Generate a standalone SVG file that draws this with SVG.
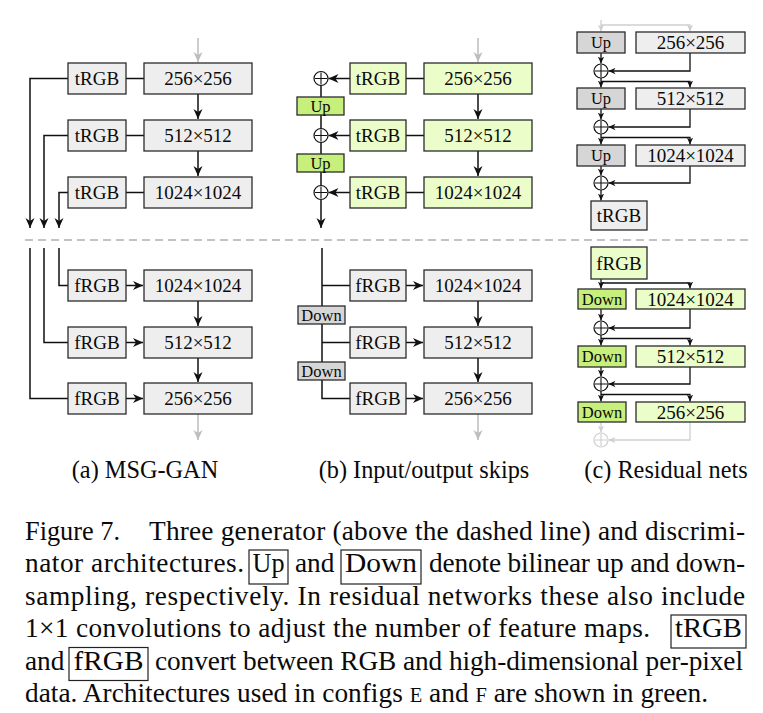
<svg xmlns="http://www.w3.org/2000/svg" width="763" height="713" viewBox="0 0 763 713">
<style>
text{font-family:"Liberation Serif","Times New Roman",serif;fill:#0a0a0a}
.lbl{font-size:19px;text-anchor:middle}
.sm{font-size:16.5px;text-anchor:middle}
.box{fill:#eeeeee;stroke:#2b2b2b;stroke-width:1.3}
.dk{fill:#d6d6d6;stroke:#2b2b2b;stroke-width:1.3}
.gl{fill:#ebfdc8;stroke:#2b2b2b;stroke-width:1.3}
.gb{fill:#c6ef7c;stroke:#2b2b2b;stroke-width:1.3}
.w{stroke:#111;stroke-width:1.5;fill:none}
.a{stroke:#111;stroke-width:1.5;fill:none;marker-end:url(#ah)}
.as{stroke:#111;stroke-width:1.3;fill:none;marker-end:url(#ahs)}
.g{stroke:#bdbdbd;stroke-width:1.5;fill:none;marker-end:url(#ahg)}
.gs{stroke:#cfcfcf;stroke-width:1.3;fill:none;marker-end:url(#ahgs)}
.ci{fill:#fff;stroke:#111;stroke-width:1.2}
.cig{fill:#fff;stroke:#cfcfcf;stroke-width:1.2}
.cap{font-size:27.3px}
.sub{font-size:24.3px;text-anchor:middle}
.cb{fill:none;stroke:#222;stroke-width:1.2}
</style>
<defs>
<marker id="ah" viewBox="0 0 10 10" refX="10" refY="5" markerWidth="10" markerHeight="10" markerUnits="userSpaceOnUse" orient="auto"><path d="M0,0.5 L10,5 L0,9.5 L3,5 z" fill="#111"/></marker>
<marker id="ahs" viewBox="0 0 10 10" refX="10" refY="5" markerWidth="7" markerHeight="7" markerUnits="userSpaceOnUse" orient="auto"><path d="M0,0.5 L10,5 L0,9.5 L3,5 z" fill="#111"/></marker>
<marker id="ahg" viewBox="0 0 10 10" refX="10" refY="5" markerWidth="10" markerHeight="10" markerUnits="userSpaceOnUse" orient="auto"><path d="M0,0.5 L10,5 L0,9.5 L3,5 z" fill="#bdbdbd"/></marker>
<marker id="ahgs" viewBox="0 0 10 10" refX="10" refY="5" markerWidth="7" markerHeight="7" markerUnits="userSpaceOnUse" orient="auto"><path d="M0,0.5 L10,5 L0,9.5 L3,5 z" fill="#cfcfcf"/></marker>
<path id="plus" d="M-6,0 H6 M0,-6 V6" stroke="#111" stroke-width="1.1"/>
</defs>

<g id="connectors">
<!-- (a) top -->
<path class="g" d="M198,38 V62"/>
<path class="a" d="M198,94 V119"/>
<path class="a" d="M198,151 V176"/>
<path class="w" d="M126,78.5 H144 M126,135.5 H144 M126,192.5 H144"/>
<path class="a" d="M68,78.5 H30 V228"/>
<path class="a" d="M68,135.5 H44 V228"/>
<path class="a" d="M68,192.5 H59 V228"/>
<!-- (a) bottom -->
<path class="w" d="M59,248 V285.5 H68 M44,248 V342.5 H68 M30,248 V398.5 H68"/>
<path class="a" d="M126,285.5 H143"/>
<path class="a" d="M126,342.5 H143"/>
<path class="a" d="M126,398.5 H143"/>
<path class="a" d="M198,301 V326"/>
<path class="a" d="M198,358 V382"/>
<path class="g" d="M198,414 V440"/>
<!-- (b) top -->
<path class="g" d="M478,38 V62"/>
<path class="a" d="M478,94 V119"/>
<path class="a" d="M478,151 V176"/>
<path class="w" d="M406,78.5 H424 M406,135.5 H424 M406,192.5 H424"/>
<path class="a" d="M350,78.5 H328.5"/>
<path class="a" d="M350,135.5 H328.5"/>
<path class="a" d="M350,192.5 H328.5"/>
<path class="w" d="M321,85.5 V97 M321,115 V128.5 M321,142.5 V154 M321,172 V185.5"/>
<path class="a" d="M321,199.5 V228"/>
<!-- (b) bottom -->
<path class="w" d="M322,248 V306 M322,285.5 H350 M322,324 V362 M322,342.5 H350 M322,380 V398.5 H350"/>
<path class="a" d="M406,285.5 H423"/>
<path class="a" d="M406,342.5 H423"/>
<path class="a" d="M406,398.5 H423"/>
<path class="a" d="M478,301 V326"/>
<path class="a" d="M478,358 V382"/>
<path class="g" d="M478,414 V440"/>
<!-- (c) top -->
<path class="gs" d="M601,20 V31.5"/>
<path class="gs" d="M601,25 H690 V31.5"/>
<path class="as" d="M601,53 V63.5"/>
<path class="as" d="M690,53 V71 H608.5"/>
<path class="as" d="M601,78 V87.5"/>
<path class="as" d="M601,81.5 H690 V87.5"/>
<path class="as" d="M601,109 V119.5"/>
<path class="as" d="M690,109 V127 H608.5"/>
<path class="as" d="M601,134 V144.5"/>
<path class="as" d="M601,137.5 H690 V144.5"/>
<path class="as" d="M601,166 V175.5"/>
<path class="as" d="M690,166 V183 H608.5"/>
<path class="as" d="M601,190 V200.5"/>
<!-- (c) bottom -->
<path class="as" d="M601,279 V288.5"/>
<path class="as" d="M601,283 H690 V288.5"/>
<path class="as" d="M601,309 V320.5"/>
<path class="as" d="M690,309 V328 H608.5"/>
<path class="as" d="M601,335 V345.5"/>
<path class="as" d="M601,338.5 H690 V345.5"/>
<path class="as" d="M601,367 V376.5"/>
<path class="as" d="M690,367 V384 H608.5"/>
<path class="as" d="M601,391 V401.5"/>
<path class="as" d="M601,394.5 H690 V401.5"/>
<path class="gs" d="M601,422 V432.5"/>
<path class="gs" d="M690,422 V440 H608.5"/>
</g>

<!-- dashed separator -->
<path d="M25,240 H752" stroke="#b0b0b0" stroke-width="1.5" stroke-dasharray="8,5" fill="none"/>

<!-- (a) MSG-GAN -->
<g id="a-tRGB-256"><rect class="box" x="68" y="63" width="58" height="31"/><text class="lbl" x="97" y="85">tRGB</text></g>
<g id="a-res-256"><rect class="box" x="144" y="63" width="108" height="31"/><text class="lbl" x="198" y="85">256×256</text></g>
<g id="a-tRGB-512"><rect class="box" x="68" y="120" width="58" height="31"/><text class="lbl" x="97" y="142">tRGB</text></g>
<g id="a-res-512"><rect class="box" x="144" y="120" width="108" height="31"/><text class="lbl" x="198" y="142">512×512</text></g>
<g id="a-tRGB-1024"><rect class="box" x="68" y="177" width="58" height="31"/><text class="lbl" x="97" y="199">tRGB</text></g>
<g id="a-res-1024"><rect class="box" x="144" y="177" width="108" height="31"/><text class="lbl" x="198" y="199">1024×1024</text></g>
<g id="a-fRGB-1024"><rect class="box" x="68" y="270" width="58" height="31"/><text class="lbl" x="97" y="292">fRGB</text></g>
<g id="a-dres-1024"><rect class="box" x="144" y="270" width="108" height="31"/><text class="lbl" x="198" y="292">1024×1024</text></g>
<g id="a-fRGB-512"><rect class="box" x="68" y="327" width="58" height="31"/><text class="lbl" x="97" y="349">fRGB</text></g>
<g id="a-dres-512"><rect class="box" x="144" y="327" width="108" height="31"/><text class="lbl" x="198" y="349">512×512</text></g>
<g id="a-fRGB-256"><rect class="box" x="68" y="383" width="58" height="31"/><text class="lbl" x="97" y="405">fRGB</text></g>
<g id="a-dres-256"><rect class="box" x="144" y="383" width="108" height="31"/><text class="lbl" x="198" y="405">256×256</text></g>

<!-- (b) Input/output skips -->
<g id="b-tRGB-256"><rect class="gl" x="350" y="63" width="56" height="31"/><text class="lbl" x="378" y="85">tRGB</text></g>
<g id="b-res-256"><rect class="gl" x="424" y="63" width="108" height="31"/><text class="lbl" x="478" y="85">256×256</text></g>
<g id="b-tRGB-512"><rect class="gl" x="350" y="120" width="56" height="31"/><text class="lbl" x="378" y="142">tRGB</text></g>
<g id="b-res-512"><rect class="gl" x="424" y="120" width="108" height="31"/><text class="lbl" x="478" y="142">512×512</text></g>
<g id="b-tRGB-1024"><rect class="gl" x="350" y="177" width="56" height="31"/><text class="lbl" x="378" y="199">tRGB</text></g>
<g id="b-res-1024"><rect class="gl" x="424" y="177" width="108" height="31"/><text class="lbl" x="478" y="199">1024×1024</text></g>
<g id="b-sum-1"><circle class="ci" cx="321" cy="78.5" r="7"/><use href="#plus" x="321" y="78.5"/></g>
<g id="b-up-1"><rect class="gb" x="297" y="97" width="47" height="18"/><text class="sm" x="320.5" y="112">Up</text></g>
<g id="b-sum-2"><circle class="ci" cx="321" cy="135.5" r="7"/><use href="#plus" x="321" y="135.5"/></g>
<g id="b-up-2"><rect class="gb" x="297" y="154" width="47" height="18"/><text class="sm" x="320.5" y="169">Up</text></g>
<g id="b-sum-3"><circle class="ci" cx="321" cy="192.5" r="7"/><use href="#plus" x="321" y="192.5"/></g>
<g id="b-fRGB-1024"><rect class="box" x="350" y="270" width="56" height="31"/><text class="lbl" x="378" y="292">fRGB</text></g>
<g id="b-dres-1024"><rect class="box" x="424" y="270" width="108" height="31"/><text class="lbl" x="478" y="292">1024×1024</text></g>
<g id="b-down-1"><rect class="dk" x="298" y="306" width="47" height="18"/><text class="sm" x="321.5" y="320.5">Down</text></g>
<g id="b-fRGB-512"><rect class="box" x="350" y="327" width="56" height="31"/><text class="lbl" x="378" y="349">fRGB</text></g>
<g id="b-dres-512"><rect class="box" x="424" y="327" width="108" height="31"/><text class="lbl" x="478" y="349">512×512</text></g>
<g id="b-down-2"><rect class="dk" x="298" y="362" width="47" height="18"/><text class="sm" x="321.5" y="376.5">Down</text></g>
<g id="b-fRGB-256"><rect class="box" x="350" y="383" width="56" height="31"/><text class="lbl" x="378" y="405">fRGB</text></g>
<g id="b-dres-256"><rect class="box" x="424" y="383" width="108" height="31"/><text class="lbl" x="478" y="405">256×256</text></g>

<!-- (c) Residual nets -->
<g id="c-up-1"><rect class="dk" x="577" y="32" width="48" height="21"/><text class="sm" x="601" y="48">Up</text></g>
<g id="c-res-256"><rect class="box" x="636" y="32" width="109" height="21"/><text class="lbl" x="690.5" y="49">256×256</text></g>
<g id="c-sum-1"><circle class="ci" cx="601" cy="71" r="7"/><use href="#plus" x="601" y="71"/></g>
<g id="c-up-2"><rect class="dk" x="577" y="88" width="48" height="21"/><text class="sm" x="601" y="104">Up</text></g>
<g id="c-res-512"><rect class="box" x="636" y="88" width="109" height="21"/><text class="lbl" x="690.5" y="105">512×512</text></g>
<g id="c-sum-2"><circle class="ci" cx="601" cy="127" r="7"/><use href="#plus" x="601" y="127"/></g>
<g id="c-up-3"><rect class="dk" x="577" y="145" width="48" height="21"/><text class="sm" x="601" y="161">Up</text></g>
<g id="c-res-1024"><rect class="box" x="636" y="145" width="109" height="21"/><text class="lbl" x="690.5" y="162">1024×1024</text></g>
<g id="c-sum-3"><circle class="ci" cx="601" cy="183" r="7"/><use href="#plus" x="601" y="183"/></g>
<g id="c-tRGB"><rect class="box" x="591" y="201" width="56" height="29"/><text class="lbl" x="619" y="222">tRGB</text></g>
<g id="c-fRGB"><rect class="gl" x="591" y="247" width="56" height="32"/><text class="lbl" x="619" y="270">fRGB</text></g>
<g id="c-down-1"><rect class="gb" x="578" y="289" width="48" height="20"/><text class="sm" x="602" y="304.5">Down</text></g>
<g id="c-dres-1024"><rect class="gl" x="636" y="289" width="109" height="20"/><text class="lbl" x="690.5" y="305.5">1024×1024</text></g>
<g id="c-sum-4"><circle class="ci" cx="601" cy="328" r="7"/><use href="#plus" x="601" y="328"/></g>
<g id="c-down-2"><rect class="gb" x="578" y="346" width="48" height="21"/><text class="sm" x="602" y="362">Down</text></g>
<g id="c-dres-512"><rect class="gl" x="636" y="346" width="109" height="21"/><text class="lbl" x="690.5" y="363">512×512</text></g>
<g id="c-sum-5"><circle class="ci" cx="601" cy="384" r="7"/><use href="#plus" x="601" y="384"/></g>
<g id="c-down-3"><rect class="gb" x="578" y="402" width="48" height="20"/><text class="sm" x="602" y="417.5">Down</text></g>
<g id="c-dres-256"><rect class="gl" x="636" y="402" width="109" height="20"/><text class="lbl" x="690.5" y="418.5">256×256</text></g>
<g id="c-sum-6"><circle class="cig" cx="601" cy="440" r="7"/><path d="M595,440 H607 M601,434 V446" stroke="#cfcfcf" stroke-width="1.1"/></g>

<!-- sub-captions -->
<text class="sub" x="145" y="478">(a) MSG-GAN</text>
<text class="sub" x="424" y="478">(b) Input/output skips</text>
<text class="sub" x="666" y="478">(c) Residual nets</text>

<!-- caption -->
<g id="caption">
<text class="cap" x="25" y="540" textLength="95" lengthAdjust="spacingAndGlyphs">Figure 7.</text>
<text class="cap" x="149" y="540" textLength="596" lengthAdjust="spacing">Three generator (above the dashed line) and discrimi-</text>
<text class="cap" x="25" y="572.3" textLength="219" lengthAdjust="spacing">nator architectures.</text>
<rect class="cb" x="249" y="550" width="39" height="34"/>
<text class="cap" x="252.5" y="572.3" textLength="32" lengthAdjust="spacingAndGlyphs">Up</text>
<text class="cap" x="295" y="572.3">and</text>
<rect class="cb" x="341" y="550" width="80" height="34"/>
<text class="cap" x="345" y="572.3" textLength="72" lengthAdjust="spacingAndGlyphs">Down</text>
<text class="cap" x="429" y="572.3" textLength="316" lengthAdjust="spacing">denote bilinear up and down-</text>
<text class="cap" x="25" y="604.6" textLength="720" lengthAdjust="spacing">sampling, respectively.  In residual networks these also include</text>
<text class="cap" x="25" y="637" textLength="625" lengthAdjust="spacing">1×1 convolutions to adjust the number of feature maps.</text>
<rect class="cb" x="671" y="615" width="75" height="33"/>
<text class="cap" x="675" y="637" textLength="67" lengthAdjust="spacingAndGlyphs">tRGB</text>
<text class="cap" x="25" y="669.5">and</text>
<rect class="cb" x="69" y="647.5" width="79" height="33"/>
<text class="cap" x="73.5" y="669.5" textLength="70" lengthAdjust="spacingAndGlyphs">fRGB</text>
<text class="cap" x="155" y="669.5" textLength="588" lengthAdjust="spacing">convert between RGB and high-dimensional per-pixel</text>
<text class="cap" x="25" y="702" textLength="683" lengthAdjust="spacing">data. Architectures used in configs <tspan font-size="20.5">E</tspan> and <tspan font-size="20.5">F</tspan> are shown in green.</text>
</g>
</svg>
